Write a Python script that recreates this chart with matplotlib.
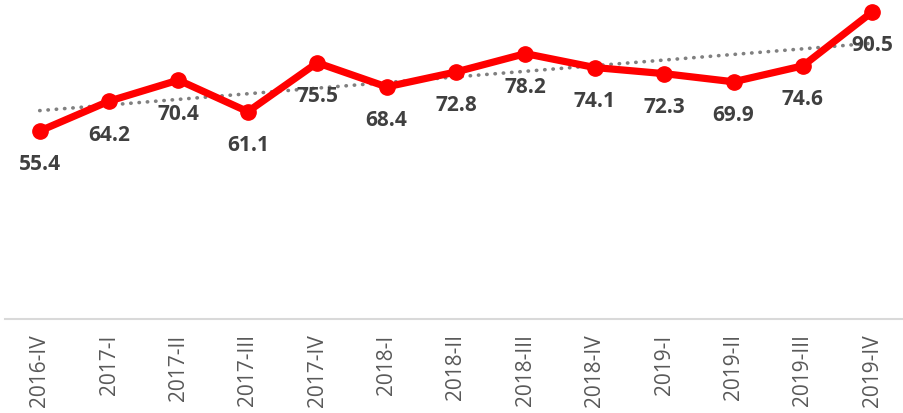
import numpy as np
import matplotlib
matplotlib.use('Agg')
import matplotlib.pyplot as plt

quarters = ['2016-IV', '2017-I', '2017-II', '2017-III', '2017-IV', '2018-I', '2018-II',
            '2018-III', '2018-IV', '2019-I', '2019-II', '2019-III', '2019-IV']
values = [55.4, 64.2, 70.4, 61.1, 75.5, 68.4, 72.8, 78.2, 74.1, 72.3, 69.9, 74.6, 90.5]

plt.rcParams['font.family'] = ['Open Sans', 'DejaVu Sans']

fig = plt.figure(figsize=(9.04, 4.13), dpi=100)
ax = fig.add_axes([5 / 904, 94 / 413, 902 / 904, 319 / 413])

x = np.arange(len(quarters))

# linear trend line
k, b = np.polyfit(x, values, 1)
ax.plot(x, k * x + b, color='#808080', lw=2.6, linestyle=(0, (0.1, 2.2)),
        dash_capstyle='round', zorder=2, clip_on=False)

ax.plot(x, values, color='#ff0000', lw=5.2, marker='o', markersize=11,
        solid_capstyle='round', zorder=3, clip_on=False)

for xi, v in zip(x, values):
    ax.annotate(f'{v:.1f}', (xi, v), xytext=(0, -34), textcoords='offset pixels',
                ha='center', va='center', fontsize=15, fontweight='bold', color='#404040')

ax.set_xlim(-0.5, len(quarters) - 0.5)
ax.set_ylim(0, 94)
ax.set_yticks([])
ax.set_xticks(x)
ax.set_xticklabels(quarters, rotation=90, fontsize=15, color='#595959')
ax.tick_params(axis='x', length=0, pad=11)
for s in ['top', 'right', 'left']:
    ax.spines[s].set_visible(False)
ax.spines['bottom'].set_color('#d9d9d9')
ax.spines['bottom'].set_linewidth(1.5)

fig.savefig('out.png', dpi=100)
